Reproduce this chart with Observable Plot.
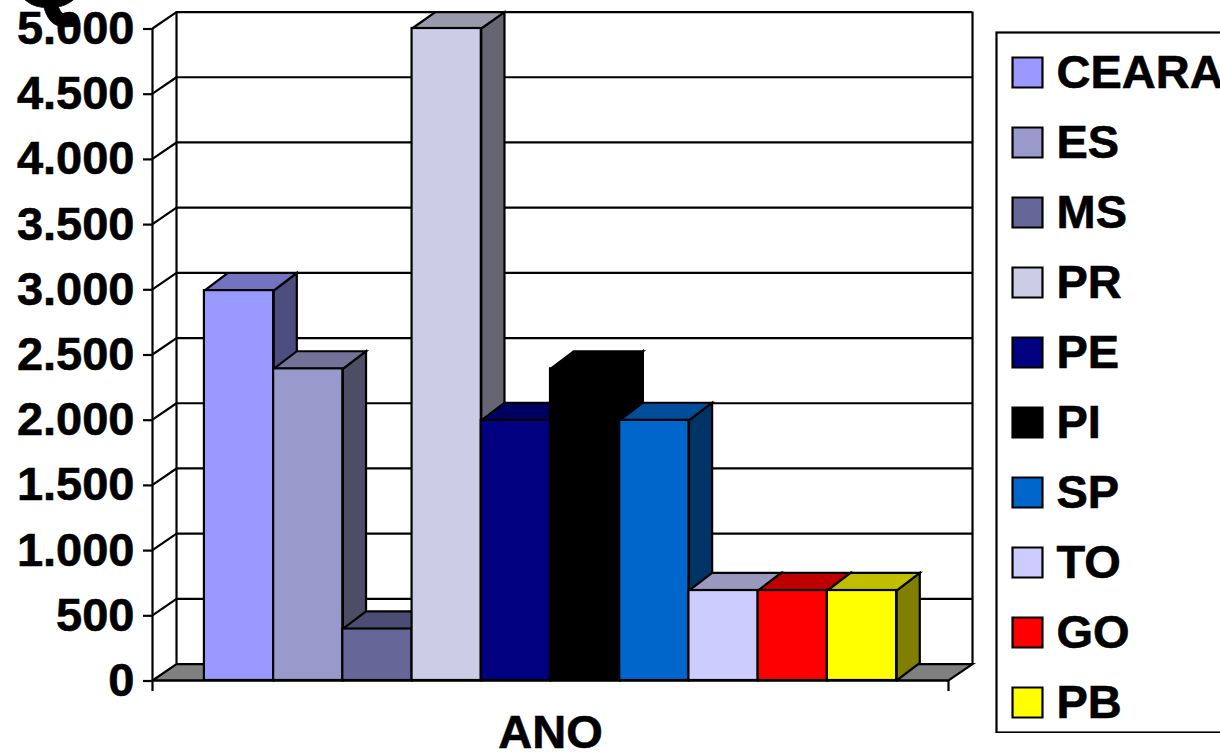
<!DOCTYPE html>
<html>
<head>
<meta charset="utf-8">
<style>
html,body{margin:0;padding:0;background:#fff;width:1220px;height:752px;overflow:hidden}
#wrap{position:relative;width:1220px;height:752px;overflow:hidden}
#chart,#legend{position:absolute}
#chart{left:0;top:0;width:1220px}
#legend{left:995px;top:31px;width:240px}
svg text{stroke:#000;stroke-width:.6px}
</style>
<script src="https://cdn.jsdelivr.net/npm/d3@7"></script>
<script src="https://cdn.jsdelivr.net/npm/@observablehq/plot@0.6"></script>
</head>
<body>
<div id="wrap"><div id="chart"></div><div id="legend"></div></div>
<script>
const categories = ["CEARA","ES","MS","PR","PE","PI","SP","TO","GO","PB"];
const values = [2990,2390,395,5000,1995,2390,1995,690,690,690];
const colors = ["#9999FF","#9999CC","#666699","#CCCCE6","#000080","#000000","#0066CC","#CCCCFF","#FF0000","#FFFF00"];
const topColors = ["#7373BF","#737399","#4D4D73","#9999AC","#000060","#000000","#004D99","#9999BF","#BF0000","#BFBF00"];
const sideColors = ["#4D4D80","#4D4D66","#33334D","#666673","#000040","#000000","#003366","#666680","#800000","#808000"];
const yTicks = [0,500,1000,1500,2000,2500,3000,3500,4000,4500,5000];
const xMax = 11.5, gap = 0.75, depthX = 0.347, depthY = 126, barDepthX = 0.335, barDepthY = 135;
const sw = 2.2, font = "'Liberation Sans', Arial, sans-serif";
const fmt = d => d3.format(",")(d).replace(",", ".");
const poly = (pts, fill) => Plot.line(pts, {x: d => d[0], y: d => d[1], fill, stroke: "#000", strokeWidth: sw, strokeLinejoin: "miter", strokeMiterlimit: 4});

const barMarks = categories.flatMap((c, i) => {
  const x0 = gap + i, x1 = x0 + 1, v = values[i];
  const back = Math.min(v + barDepthY, 5000 + depthY);
  return [
    poly([[x1,0],[x1+barDepthX,barDepthY],[x1+barDepthX,back],[x1,v],[x1,0]], sideColors[i]),
    poly([[x0,v],[x1,v],[x1+barDepthX,back],[x0+barDepthX,back],[x0,v]], topColors[i]),
    Plot.rect([v], {x1: x0, x2: x1, y1: 0, y2: d => d, fill: colors[i], stroke: "#000", strokeWidth: sw})
  ];
});

const chart = Plot.plot({
  width: 1220, height: 752,
  marginLeft: 152, marginRight: 272, marginTop: 28, marginBottom: 72,
  style: {fontFamily: font, fontWeight: "bold", color: "#000", background: "transparent", overflow: "visible"},
  x: {domain: [0, xMax], axis: null},
  y: {domain: [0, 5000], axis: null},
  marks: [
    Plot.text(["Q"], {frameAnchor: "top-left", text: d => d, dx: -142, dy: -22, lineAnchor: "bottom", textAnchor: "start", fontSize: 100, fill: "#000"}),
    poly([[0,0],[xMax,0],[xMax+depthX,depthY],[depthX,depthY],[0,0]], "#808080"),
    Plot.ruleY(yTicks.slice(1), {y: d => d + depthY, x1: depthX, x2: xMax + depthX, stroke: "#000", strokeWidth: sw}),
    Plot.ruleX([depthX, xMax + depthX], {x: d => d, y1: depthY, y2: 5000 + depthY, stroke: "#000", strokeWidth: sw}),
    Plot.link(yTicks.slice(1), {x1: 0, y1: d => d, x2: depthX, y2: d => d + depthY, stroke: "#000", strokeWidth: sw}),
    ...barMarks,
    Plot.ruleX([0], {y1: 0, y2: 5000, stroke: "#000", strokeWidth: sw}),
    Plot.ruleY([0], {x1: 0, x2: xMax, stroke: "#000", strokeWidth: sw}),
    Plot.axisX([0, xMax], {tickSize: 11, tickFormat: () => "", label: null, strokeWidth: sw}),
    Plot.axisY(yTicks, {tickSize: 9, tickPadding: 9, tickFormat: fmt, fontSize: 47, dy: 0.5, strokeWidth: sw, label: null}),
    Plot.text(["ANO"], {frameAnchor: "bottom", text: d => d, dy: 52, lineAnchor: "middle", fontSize: 47, fill: "#000"})
  ]
});
document.getElementById("chart").append(chart);

const legend = Plot.plot({
  width: 240, height: 702,
  marginLeft: 1, marginRight: 1, marginTop: 1, marginBottom: 1,
  style: {fontFamily: font, fontWeight: "bold", color: "#000", background: "#fff", overflow: "hidden"},
  y: {type: "point", domain: categories, range: [40, 671], padding: 0, axis: null},
  color: {type: "identity"},
  marks: [
    Plot.frame({stroke: "#000", strokeWidth: sw}),
    Plot.dot(categories, {y: d => d, frameAnchor: "left", dx: 31, symbol: "square", r: 16.9, fill: (d, i) => colors[i], stroke: "#000", strokeWidth: sw}),
    Plot.text(categories, {y: d => d, text: d => d, frameAnchor: "left", dx: 60, textAnchor: "start", fontSize: 47, fill: "#000"})
  ]
});
document.getElementById("legend").append(legend);
</script>
</body>
</html>
